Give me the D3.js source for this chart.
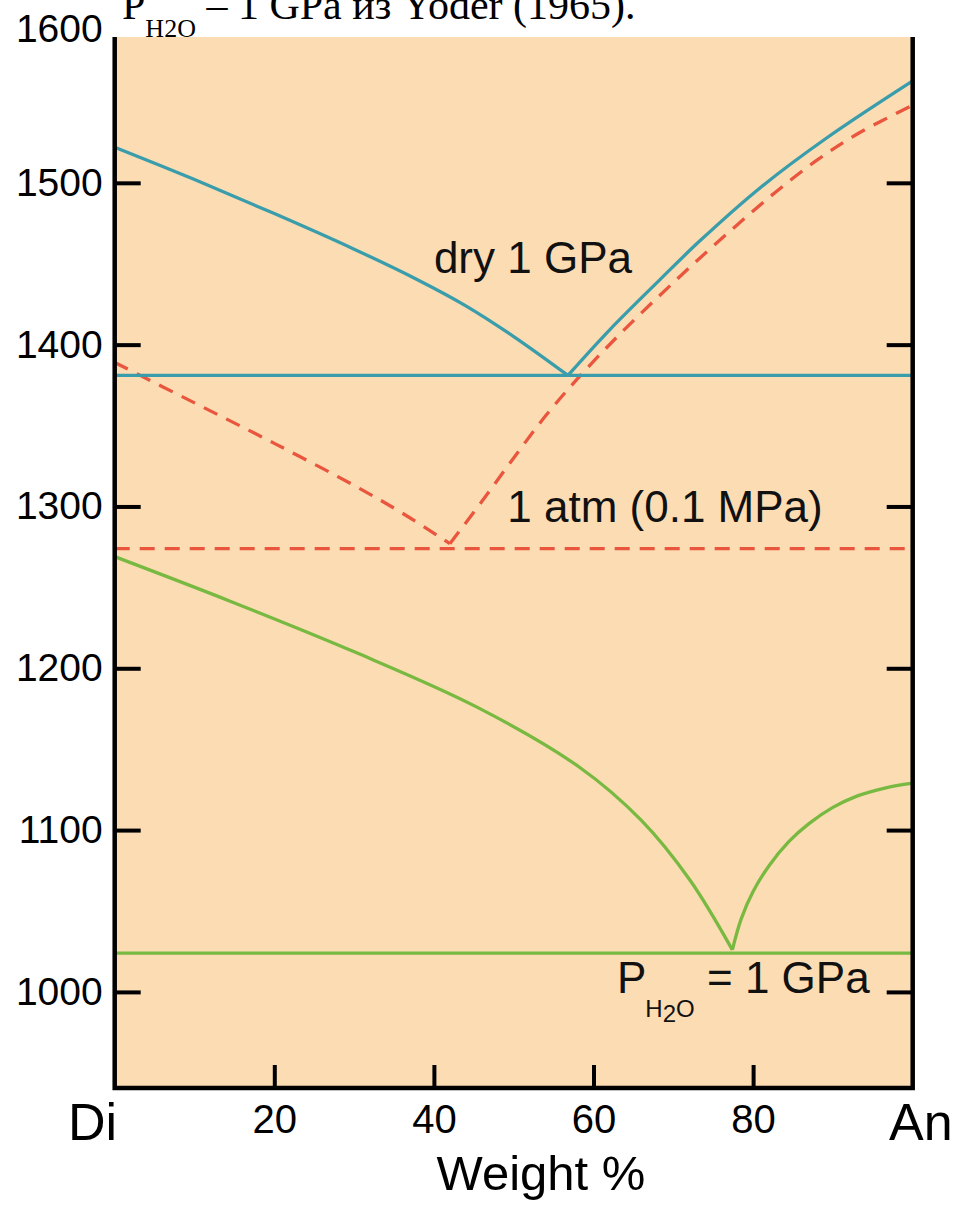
<!DOCTYPE html>
<html>
<head>
<meta charset="utf-8">
<script src="https://cdn.jsdelivr.net/npm/d3@7"></script>
<style>
  html, body { margin: 0; padding: 0; background: #ffffff; }
  svg { display: block; }
</style>
</head>
<body>
<svg id="chart" width="961" height="1208"></svg>
<script>
// ---- data (weight % An, temperature °C) ----
const xTicks = [20, 40, 60, 80];
const yTicks = [1000, 1100, 1200, 1300, 1400, 1500, 1600];
const endLabels = ["Di", "An"];

const dryLeft = [[0,1522],[10,1502],[20,1481],[30,1459],[38,1440],[44,1424],[50,1405],[56.8,1381]];
const dryRight = [[56.8,1381],[62,1409],[68.3,1440],[73.3,1464],[80.9,1497],[89.3,1528],[100,1563]];
const dryEutectic = 1381;

const atmLeft = [[0,1389],[10,1364],[20,1339],[30,1313],[36,1296],[42,1277]];
const atmRight = [[42,1277],[46,1303],[50,1330],[54,1356],[58,1379],[63,1405],[68,1429],[73,1452],[78,1474],[83,1495],[88,1514],[93,1530],[100,1548]];
const atmEutectic = 1274;

const wetLeft = [[0,1269],[14.7,1241],[30.1,1210],[45.4,1176],[58.2,1139],[66.0,1106],[72.1,1069],[77.4,1026]];
const wetRight = [[77.4,1026],[78.5,1045],[80,1062],[82,1078],[84.5,1093],[87,1104],[90,1114],[93,1121],[96.5,1126],[100,1129]];
const wetEutectic = 1024;

const labels = [
  {text: "dry 1 GPa", x: 40.0, y: 1444},
  {text: "1 atm (0.1 MPa)", x: 49.2, y: 1290.5}
];

(function () {
// ---- layout ----
const svg = d3.select("#chart");
const pLeft = 114.7, pRight = 912.7, pTop = 37, pBottom = 1088;
const x = d3.scaleLinear().domain([0, 100]).range([pLeft, pRight]);
const y = d3.scaleLinear().domain([940, 1600]).range([1089, 21]);

const colTeal = "#3a9dab", colRed = "#e9553d", colGreen = "#78b941";
const fontSans = "'Liberation Sans', Arial, Helvetica, sans-serif";

// plot background
svg.append("rect")
  .attr("x", pLeft).attr("y", pTop)
  .attr("width", pRight - pLeft).attr("height", pBottom - pTop)
  .attr("fill", "#fcdcb3");

// title (partially cut off at top, as in the source)
const title = svg.append("text")
  .attr("x", 122).attr("y", 19)
  .attr("font-family", "'Liberation Serif', 'Times New Roman', serif")
  .attr("font-size", 42).attr("fill", "#000");
title.append("tspan").text("P");
title.append("tspan").attr("font-size", 26).attr("dy", 18).text("H2O");
title.append("tspan").attr("dy", -18).text(" – 1 GPa из Yoder (1965).");

const g = svg.append("g");
const line = d3.line().x(d => x(d[0])).y(d => y(d[1])).curve(d3.curveCatmullRom.alpha(0.5));

function horiz(v, color, dash) {
  g.append("line")
    .attr("x1", x(0)).attr("x2", x(100))
    .attr("y1", y(v)).attr("y2", y(v))
    .attr("stroke", color).attr("stroke-width", 3.3)
    .attr("stroke-dasharray", dash || null);
}
function curve(data, color, dash) {
  g.append("path").datum(data)
    .attr("d", line)
    .attr("fill", "none")
    .attr("stroke", color).attr("stroke-width", 3.3)
    .attr("stroke-dasharray", dash || null);
}

horiz(wetEutectic, colGreen);
curve(wetLeft, colGreen);
curve(wetRight, colGreen);

horiz(atmEutectic, colRed, "15,10");
curve(atmLeft, colRed, "15,10");
curve(atmRight, colRed, "15,10");

horiz(dryEutectic, colTeal);
curve(dryLeft, colTeal);
curve(dryRight, colTeal);

// axes
const yAxisL = svg.append("g").attr("transform", `translate(${pLeft},0)`)
  .call(d3.axisLeft(y).tickValues(yTicks).tickSizeInner(-26).tickSizeOuter(0).tickPadding(12).tickFormat(d3.format("d")));
const yAxisR = svg.append("g").attr("transform", `translate(${pRight},0)`)
  .call(d3.axisRight(y).tickValues(yTicks.filter(v => v < 1600)).tickSizeInner(-26).tickSizeOuter(0).tickFormat(""));
const xAxis = svg.append("g").attr("transform", `translate(0,${pBottom})`)
  .call(d3.axisBottom(x).tickValues(xTicks).tickSizeInner(-23).tickSizeOuter(0).tickPadding(17).tickFormat(d3.format("d")));

[yAxisL, yAxisR, xAxis].forEach(ax => {
  ax.select(".domain").remove();
  ax.selectAll(".tick line").attr("stroke", "#000").attr("stroke-width", 4);
  ax.selectAll(".tick text").attr("fill", "#000").attr("font-family", fontSans);
});
yAxisL.selectAll(".tick text").attr("font-size", 39);
xAxis.selectAll(".tick text").attr("font-size", 40);
const t1600 = yAxisL.selectAll(".tick").filter(d => d === 1600);
t1600.select("line").remove();
t1600.select("text").attr("dy", "0.52em");

// frame: left, right, bottom
svg.append("path")
  .attr("d", `M${pLeft},${pTop} V${pBottom} H${pRight} V${pTop}`)
  .attr("fill", "none").attr("stroke", "#000").attr("stroke-width", 4.5)
  .attr("stroke-linejoin", "miter");

// end-member labels
svg.append("text").attr("x", 117).attr("y", 1140).attr("text-anchor", "end")
  .attr("font-family", fontSans).attr("font-size", 52).text(endLabels[0]);
svg.append("text").attr("x", 889).attr("y", 1140).attr("text-anchor", "start")
  .attr("font-family", fontSans).attr("font-size", 52).text(endLabels[1]);

// x axis title
svg.append("text").attr("x", 541).attr("y", 1190).attr("text-anchor", "middle")
  .attr("font-family", fontSans).attr("font-size", 49).text("Weight %");

// curve labels
labels.forEach(l => {
  svg.append("text").attr("x", x(l.x)).attr("y", y(l.y))
    .attr("font-family", fontSans).attr("font-size", 44).attr("fill", "#111").text(l.text);
});

// P_H2O = 1 GPa label
const wl = svg.append("text").attr("x", 617).attr("y", 993)
  .attr("font-family", fontSans).attr("font-size", 44).attr("fill", "#111");
wl.append("tspan").text("P");
wl.append("tspan").attr("font-size", 24).attr("dx", -1).attr("dy", 24).text("H");
wl.append("tspan").attr("font-size", 24).attr("dy", 5).text("2");
wl.append("tspan").attr("font-size", 24).attr("dy", -5).text("O");
wl.append("tspan").attr("dy", -24).text(" = 1 GPa");
})();
</script>
</body>
</html>
